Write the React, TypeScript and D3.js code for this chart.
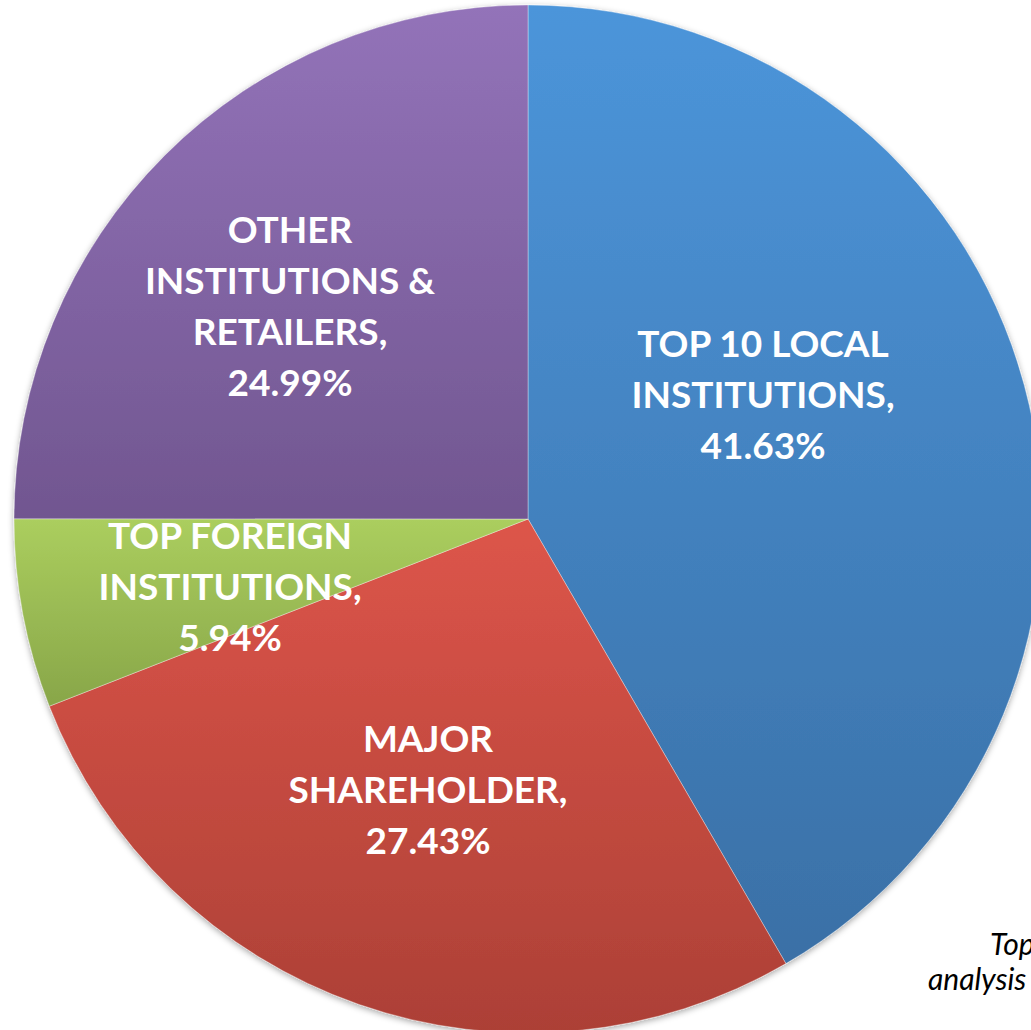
import { useEffect, useRef } from 'react';
import * as d3 from 'd3';

const categories = ['TOP 10 LOCAL INSTITUTIONS', 'MAJOR SHAREHOLDER', 'TOP FOREIGN INSTITUTIONS', 'OTHER INSTITUTIONS & RETAILERS'];
const shares = [41.63, 27.43, 5.94, 24.99];
const labelLines = [
  ['TOP 10 LOCAL', 'INSTITUTIONS,', '41.63%'],
  ['MAJOR', 'SHAREHOLDER,', '27.43%'],
  ['TOP FOREIGN', 'INSTITUTIONS,', '5.94%'],
  ['OTHER', 'INSTITUTIONS &', 'RETAILERS,', '24.99%'],
];
const colorsTop = ['#4c95da', '#dd554a', '#abce5e', '#9373b9'];
const colorsBottom = ['#3a70a6', '#ac4036', '#88a649', '#715690'];
const noteLines = ['Top', 'analysis'];

const App = () => {
  const svgRef = useRef<SVGSVGElement>(null);

  useEffect(() => {
    const svg = d3.select(svgRef.current);
    svg.selectAll('*').remove();

    const width = 1031;
    const height = 1030;
    const cx = 528;
    const cy = 519;
    const radius = 514;

    svg.attr('width', width).attr('height', height);

    const defs = svg.append('defs');
    const shadow = defs.append('filter').attr('id', 'shadow')
      .attr('x', '-10%').attr('y', '-10%').attr('width', '120%').attr('height', '120%');
    shadow.append('feDropShadow')
      .attr('dx', 0).attr('dy', 2).attr('stdDeviation', 3)
      .attr('flood-color', '#000').attr('flood-opacity', 0.35);

    categories.forEach((c, i) => {
      const g = defs.append('linearGradient').attr('id', `grad${i}`)
        .attr('x1', 0).attr('y1', 0).attr('x2', 0).attr('y2', 1);
      g.append('stop').attr('offset', '0%').attr('stop-color', colorsTop[i]);
      g.append('stop').attr('offset', '100%').attr('stop-color', colorsBottom[i]);
    });

    const data = categories.map((c, i) => ({ name: c, value: shares[i], idx: i }));
    const pie = d3.pie<any>().value(d => d.value).sort(null);
    const arc = d3.arc<any>().innerRadius(0).outerRadius(radius);
    const arcs = pie(data);

    const g = svg.append('g').attr('transform', `translate(${cx},${cy})`);
    const slices = g.append('g').attr('filter', 'url(#shadow)');
    slices.selectAll('path')
      .data(arcs)
      .enter()
      .append('path')
      .attr('d', arc)
      .attr('fill', d => `url(#grad${d.data.idx})`)
      .attr('stroke', 'rgba(255,255,255,0.35)')
      .attr('stroke-width', 1);

    // label centres, relative to pie centre
    const labelPos = [
      [235, -124],
      [-100, 271],
      [-298, 68],
      [-238, -212],
    ];
    const lineH = 51;

    arcs.forEach((a, i) => {
      const lines = labelLines[i];
      const [lx, ly] = labelPos[i];
      const t = g.append('text')
        .attr('text-anchor', 'middle')
        .attr('font-family', 'Lato, "Open Sans", sans-serif')
        .attr('font-weight', 'bold')
        .attr('font-size', 37)
        .attr('fill', '#ffffff');
      lines.forEach((l, j) => {
        t.append('tspan')
          .attr('x', lx)
          .attr('y', ly + (j - (lines.length - 1) / 2) * lineH)
          .attr('dy', '0.35em')
          .text(l);
      });
    });

    const note = svg.append('text')
      .attr('font-family', 'Lato, "Open Sans", sans-serif')
      .attr('font-style', 'italic')
      .attr('font-size', 30)
      .attr('fill', '#000');
    note.append('tspan').attr('x', 990).attr('y', 955).text(noteLines[0]);
    note.append('tspan').attr('x', 928).attr('y', 990).text(noteLines[1]);
  }, []);

  return (
    <div style={{ position: 'fixed', left: 0, top: 0, width: 1031, height: 1030, overflow: 'hidden', background: '#fff' }}>
      <svg ref={svgRef} style={{ display: 'block' }}></svg>
    </div>
  );
};

export default App;
